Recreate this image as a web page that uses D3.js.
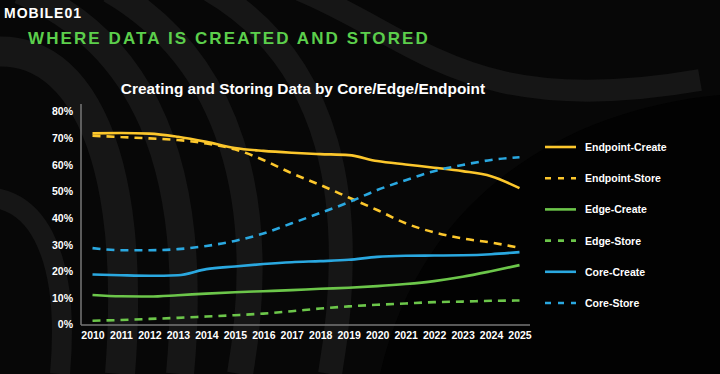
<!DOCTYPE html>
<html lang="en">
<head>
  <meta charset="UTF-8">
  <title>Creating and Storing Data</title>
  <script src="https://d3js.org/d3.v7.min.js"></script>
  <style>
    html, body { margin: 0; padding: 0; background: #050505; }
    svg { display: block; font-family: "Liberation Sans", Arial, sans-serif; }
  </style>
</head>
<body>
  <div id="chart"></div>
  <script>
    const years = d3.range(2010, 2026);
    const yTicks = [0, 10, 20, 30, 40, 50, 60, 70, 80];

    const endpointCreate = [71.8, 71.9, 71.7, 70.5, 68.6, 66.3, 65.2, 64.5, 64.0, 63.6, 61.4, 60.1, 58.9, 57.6, 55.7, 51.2];
    const endpointStore  = [70.9, 70.4, 69.9, 69.3, 68.0, 65.8, 61.8, 56.8, 52.4, 47.7, 43.0, 38.0, 34.6, 32.3, 30.8, 28.8];
    const edgeCreate     = [11.1, 10.6, 10.5, 11.0, 11.6, 12.1, 12.5, 12.9, 13.4, 13.8, 14.4, 15.2, 16.3, 17.9, 20.0, 22.3];
    const edgeStore      = [1.4, 1.7, 2.1, 2.5, 3.0, 3.5, 4.1, 5.0, 6.0, 6.8, 7.4, 7.9, 8.4, 8.6, 8.9, 9.0];
    const coreCreate     = [18.8, 18.5, 18.3, 18.5, 20.8, 21.8, 22.7, 23.4, 23.8, 24.3, 25.4, 25.8, 25.9, 26.0, 26.4, 27.2];
    const coreStore      = [28.7, 27.9, 27.9, 28.3, 29.5, 31.4, 34.2, 38.0, 41.9, 45.9, 50.5, 54.2, 57.6, 59.9, 61.8, 62.8];

    const series = [
      { name: "Endpoint-Create", values: endpointCreate, color: "#fcc72c", dashed: false },
      { name: "Endpoint-Store",  values: endpointStore,  color: "#fcc72c", dashed: true },
      { name: "Edge-Create",     values: edgeCreate,     color: "#6cc64a", dashed: false },
      { name: "Edge-Store",      values: edgeStore,      color: "#6cc64a", dashed: true },
      { name: "Core-Create",     values: coreCreate,     color: "#2aa8e0", dashed: false },
      { name: "Core-Store",      values: coreStore,      color: "#2aa8e0", dashed: true }
    ];

    const W = 720, H = 374;
    const svg = d3.select("#chart").append("svg")
      .attr("width", W)
      .attr("height", H);

    // background with soft swirl bands
    svg.append("rect").attr("width", W).attr("height", H).attr("fill", "#070707");
    const bands = svg.append("g").attr("fill", "none").attr("stroke", "#161616");
    const swirl = [
      "M-40,60 C60,20 140,120 120,374",
      "M20,-10 C140,40 200,160 180,374",
      "M110,-10 C230,60 270,200 240,374",
      "M210,-10 C330,60 360,200 330,374",
      "M300,-10 C420,40 470,120 700,80",
      "M-40,200 C40,180 70,260 60,374"
    ];
    swirl.forEach((d, i) => {
      bands.append("path").attr("d", d).attr("stroke-width", 30 - i * 2);
    });
    svg.append("path")
      .attr("d", "M380,374 C420,200 560,110 720,95 L720,374 Z")
      .attr("fill", "#020202");

    // logo + heading
    svg.append("text")
      .attr("x", 4).attr("y", 18)
      .attr("fill", "#fff")
      .attr("font-size", 14)
      .attr("font-weight", "bold")
      .attr("letter-spacing", 1)
      .text("MOBILE01");

    svg.append("text")
      .attr("x", 28).attr("y", 44)
      .attr("fill", "#5ccf4c")
      .attr("font-size", 17)
      .attr("font-weight", "bold")
      .attr("letter-spacing", 2.1)
      .text("WHERE DATA IS CREATED AND STORED");

    svg.append("text")
      .attr("x", 303).attr("y", 94)
      .attr("text-anchor", "middle")
      .attr("fill", "#fff")
      .attr("font-size", 15.4)
      .attr("font-weight", "bold")
      .text("Creating and Storing Data by Core/Edge/Endpoint");

    const x = d3.scaleLinear().domain([2010, 2025]).range([92.5, 519.5]);
    const y = d3.scaleLinear().domain([0, 80]).range([324.5, 111.5]);

    // axes
    const xAxis = svg.append("g")
      .attr("transform", "translate(0,325)")
      .call(d3.axisBottom(x).tickValues(years).tickFormat(d3.format("d")).tickSize(0).tickPadding(7));
    xAxis.select(".domain").attr("d", "M81,0H530").attr("stroke", "#777").attr("stroke-width", 1.5);
    xAxis.selectAll("text")
      .attr("fill", "#fff").attr("font-size", 10.5).attr("font-weight", "bold")
      .attr("font-family", "'Liberation Sans', Arial, sans-serif");

    const yAxis = svg.append("g")
      .attr("transform", "translate(81,0)")
      .call(d3.axisLeft(y).tickValues(yTicks).tickFormat(d => d + "%").tickSize(0).tickPadding(8));
    yAxis.select(".domain").attr("d", "M0,104V325").attr("stroke", "#777").attr("stroke-width", 1.5);
    yAxis.selectAll("text")
      .attr("fill", "#fff").attr("font-size", 10.5).attr("font-weight", "bold")
      .attr("font-family", "'Liberation Sans', Arial, sans-serif");

    // lines
    const line = d3.line()
      .x((d, i) => x(years[i]))
      .y(d => y(d))
      .curve(d3.curveMonotoneX);

    svg.append("g").selectAll("path")
      .data(series)
      .join("path")
      .attr("d", d => line(d.values))
      .attr("fill", "none")
      .attr("stroke", d => d.color)
      .attr("stroke-width", 2.6)
      .attr("stroke-dasharray", d => d.dashed ? "8,6" : null);

    // legend
    const legend = svg.append("g").selectAll("g")
      .data(series)
      .join("g")
      .attr("transform", (d, i) => `translate(545,${147 + i * 31.2})`);

    legend.append("line")
      .attr("x1", 0).attr("x2", 31)
      .attr("stroke", d => d.color)
      .attr("stroke-width", 2.6)
      .attr("stroke-dasharray", d => d.dashed ? "6,7" : null);

    legend.append("text")
      .attr("x", 40).attr("y", 4)
      .attr("fill", "#fff")
      .attr("font-size", 10.5)
      .attr("font-weight", "bold")
      .text(d => d.name);
  </script>
</body>
</html>
